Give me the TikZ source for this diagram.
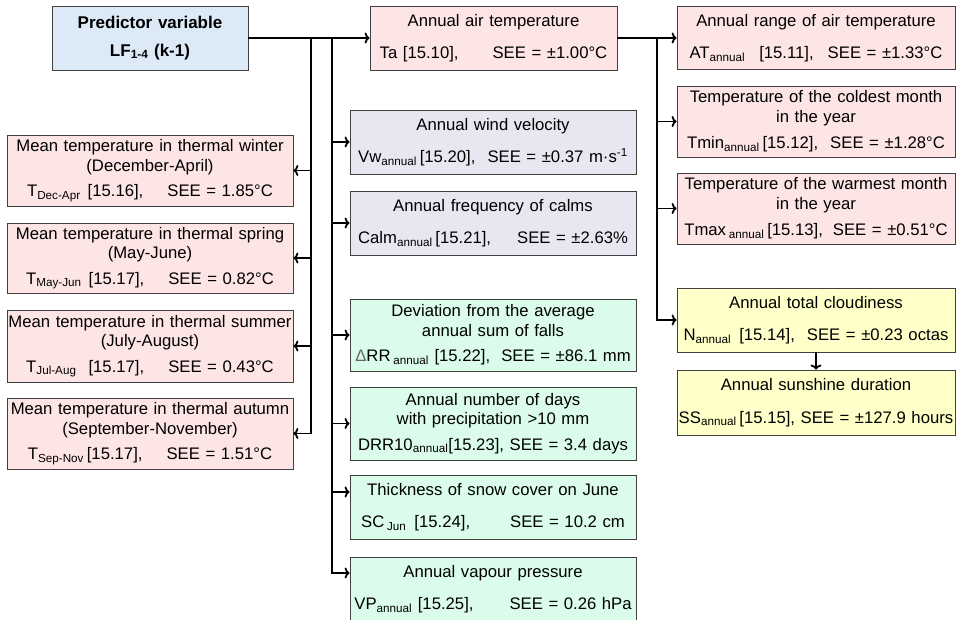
\documentclass[tikz,border=0pt]{standalone}
\usepackage{fontspec}
\setmainfont{Liberation Sans}
\usetikzlibrary{arrows.meta,positioning}
\definecolor{predblue}{HTML}{DCEAF8}
\definecolor{temppink}{HTML}{FDE5E5}
\definecolor{windgrey}{HTML}{E7E7F1}
\definecolor{raingreen}{HTML}{DBFCEB}
\definecolor{cloudyellow}{HTML}{FFFFC9}
\newcommand{\ann}{\textsubscript{annual}}
\begin{document}
\begin{tikzpicture}
[x=1pt,y=-1pt,
 box/.style={rectangle,draw=black!75,line width=0.8pt,inner sep=0pt,align=center,font=\fontsize{16.7}{19.5}\selectfont},
 typeB/.style={box,fill=predblue,font=\fontsize{17}{22}\selectfont\bfseries},
 typeT/.style={box,fill=temppink},
 typeW/.style={box,fill=windgrey},
 typeR/.style={box,fill=raingreen},
 typeN/.style={box,fill=cloudyellow},
 tip/.style={-{To[length=5pt,width=11pt]}},
 straight path/.style={line width=1.8pt},
 hv path/.style={line width=1.8pt, to path={-| (\tikztotarget)}},
 vh path/.style={line width=1.8pt, to path={|- (\tikztotarget)}}]
\useasboundingbox (0,0) rectangle (959,620);
% predictor and first level
\node[typeB,text width=196pt,minimum height=64pt] (pred) at (150,38) {Predictor variable\\[6pt]LF\textsubscript{1-4} (k-1)};
\node[typeT,text width=247pt,minimum height=64pt] (Ta)   at (493.5,38) {Annual air temperature\\[13pt]Ta [15.10],\hspace{34pt}SEE = ±1.00°C};
% right column
\node[typeT,text width=278pt,minimum height=63pt] (AT)   at (816,38) {Annual range of air temperature\\[13pt]AT\ann\hspace{14pt}[15.11],\hspace{14pt}SEE = ±1.33°C};
\node[typeT,text width=278pt,minimum height=71pt] (Tmin) at (816,121.5) {Temperature of the coldest month\\in the year\\[7pt]Tmin\ann\,[15.12],\hspace{12pt}SEE = ±1.28°C};
\node[typeT,text width=278pt,minimum height=71pt] (Tmax) at (816,208.5) {Temperature of the warmest month\\in the year\\[7pt]Tmax\,\ann\,[15.13],\hspace{10pt}SEE = ±0.51°C};
\node[typeN,text width=278pt,minimum height=64pt] (N)    at (816,320) {Annual total cloudiness\\[13pt]N\ann\hspace{8pt}[15.14],\hspace{12pt}SEE = ±0.23 octas};
\node[typeN,text width=278pt,minimum height=65pt] (SS)   at (816,402.5) {Annual sunshine duration\\[13pt]\mbox{SS\ann\,[15.15], SEE = ±127.9 hours}};
% left column
\node[typeT,text width=286pt,minimum height=71pt] (win)  at (150,170.5) {Mean temperature in thermal winter\\(December-April)\\[6pt]T\textsubscript{Dec-Apr}\hspace{7pt}[15.16],\hspace{24pt}SEE = 1.85°C};
\node[typeT,text width=286pt,minimum height=70pt] (spr)  at (150,258) {Mean temperature in thermal spring\\(May-June)\\[6pt]T\textsubscript{May-Jun}\hspace{7pt}[15.17],\hspace{24pt}SEE = 0.82°C};
\node[typeT,text width=286pt,minimum height=72pt] (sum)  at (150,346) {\mbox{Mean temperature in thermal summer}\\(July-August)\\[6pt]T\textsubscript{Jul-Aug}\hspace{12pt}[15.17],\hspace{24pt}SEE = 0.43°C};
\node[typeT,text width=286pt,minimum height=71pt] (aut)  at (150,433.5) {Mean temperature in thermal autumn\\(September-November)\\[6pt]T\textsubscript{Sep-Nov}\,[15.17],\hspace{24pt}SEE = 1.51°C};
% middle column
\node[typeW,text width=286pt,minimum height=64pt] (wind) at (493,142) {Annual wind velocity\\[13pt]Vw\ann\,[15.20],\hspace{12pt}SEE = ±0.37 m·s\textsuperscript{-1}};
\node[typeW,text width=286pt,minimum height=64pt] (calm) at (493,223) {Annual frequency of calms\\[13pt]Calm\ann\,[15.21],\hspace{26pt}SEE = ±2.63\%};
\node[typeR,text width=286pt,minimum height=72pt] (dev)  at (493,335) {Deviation from the average\\annual sum of falls\\[6pt]{\color{black!60}Δ}RR\,\ann\ [15.22],\ \ SEE = ±86.1 mm};
\node[typeR,text width=286pt,minimum height=73pt] (drr)  at (493,423.5) {Annual number of days\\with precipitation >10 mm\\[6pt]DRR10\ann[15.23], SEE = 3.4 days};
\node[typeR,text width=286pt,minimum height=64pt] (snow) at (493,507) {Thickness of snow cover on June\\[13pt]SC\,\textsubscript{Jun}\hspace{8pt}[15.24],\hspace{40pt}SEE = 10.2 cm};
\node[typeR,text width=286pt,minimum height=64pt] (vp)   at (493,589) {Annual vapour pressure\\[13pt]VP\ann\ [15.25],\hspace{36pt}SEE = 0.26 hPa};
% branch points
\coordinate (jL) at (311,38);
\coordinate (jR) at (332,38);
\coordinate (jT) at (657,38);
\path (pred.east) edge[straight path,tip] (Ta.west)
      (jL)        edge[vh path,tip] (win.east)
                  edge[vh path,tip] (spr.east)
                  edge[vh path,tip] (sum.east)
                  edge[vh path,tip] (aut.east)
      (jR)        edge[vh path,tip] (wind.west)
                  edge[vh path,tip] (calm.west)
                  edge[vh path,tip] (dev.west)
                  edge[vh path,tip] (drr.west)
                  edge[vh path,tip] ([yshift=15pt]snow.west)
                  edge[vh path,tip] ([yshift=16pt]vp.west)
      (Ta.east)   edge[straight path,tip] (AT.west)
      (jT)        edge[vh path,tip] (Tmin.west)
                  edge[vh path,tip] (Tmax.west)
                  edge[vh path,tip] (N.west)
      (N.south)   edge[straight path,tip] (SS.north);
\end{tikzpicture}
\end{document}
